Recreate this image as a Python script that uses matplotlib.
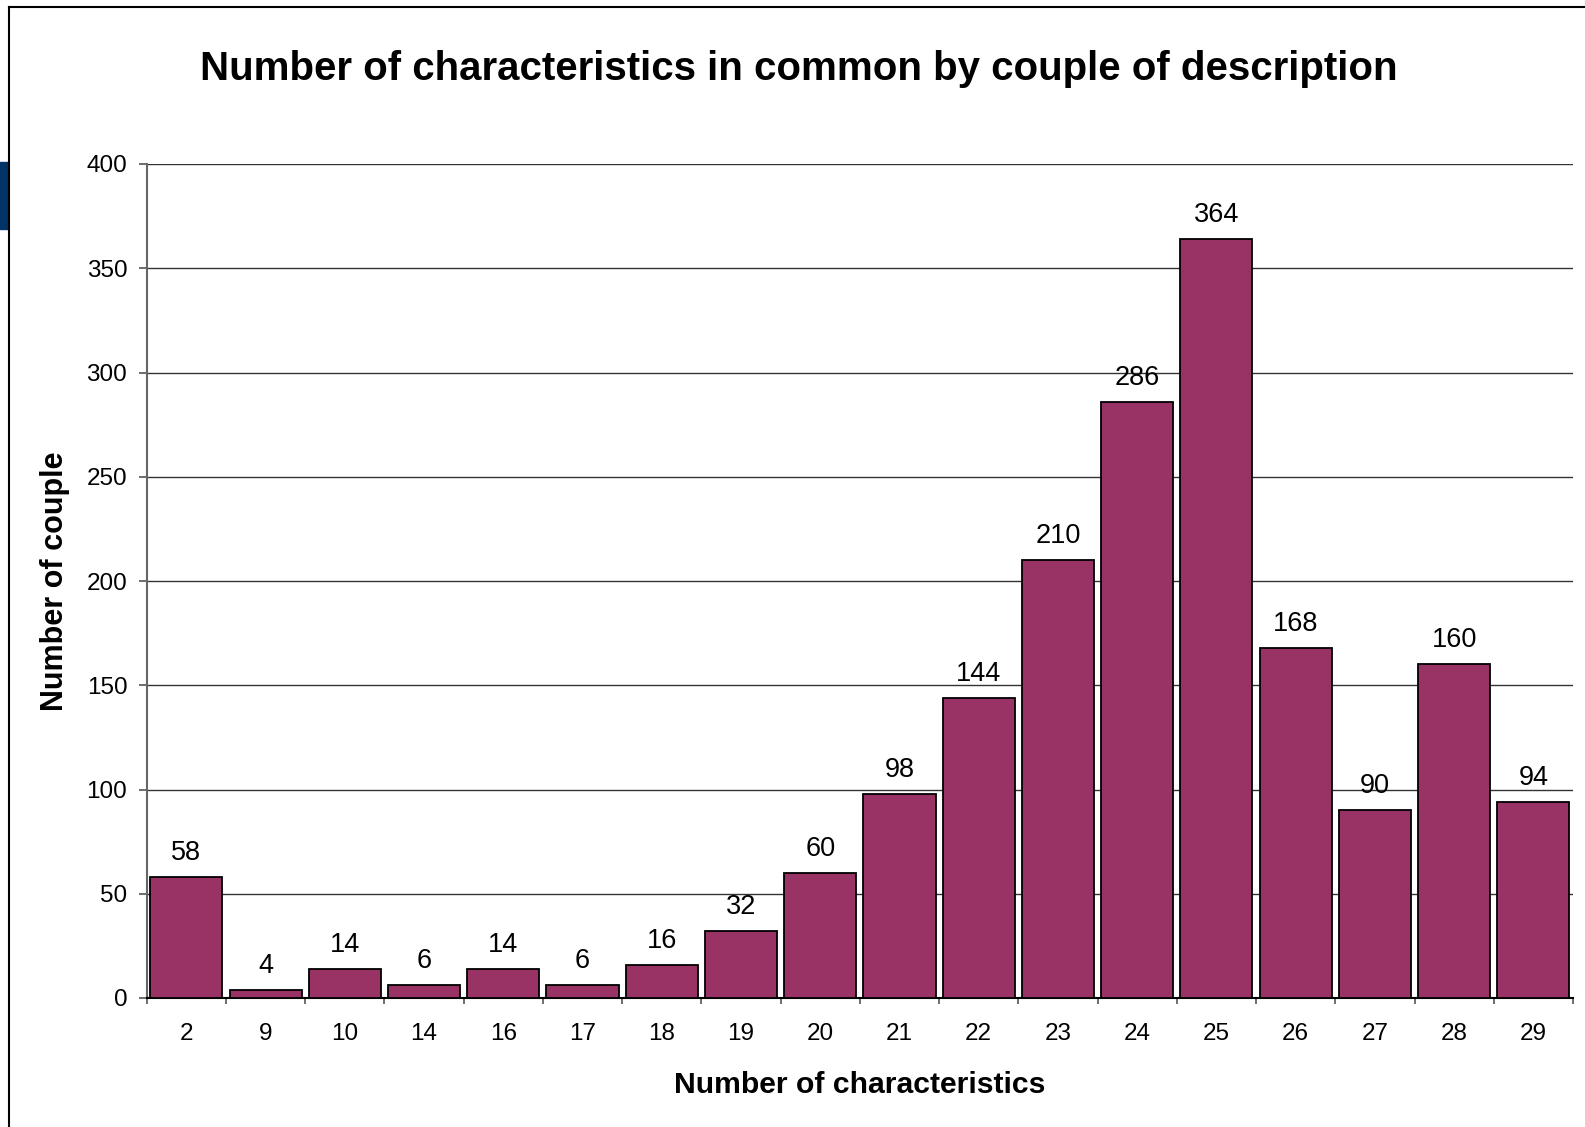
import matplotlib
matplotlib.use("Agg")
import matplotlib.pyplot as plt
from matplotlib.lines import Line2D
from matplotlib.patches import Rectangle
import numpy as np

# Number of characteristics shared, and how many couples share that many
categories = ["2", "9", "10", "14", "16", "17", "18", "19", "20",
              "21", "22", "23", "24", "25", "26", "27", "28", "29"]
couples = [58, 4, 14, 6, 14, 6, 16, 32, 60,
           98, 144, 210, 286, 364, 168, 90, 160, 94]
y_ticks = [0, 50, 100, 150, 200, 250, 300, 350, 400]

title = "Number of characteristics in common by couple of description"
x_label = "Number of characteristics"
y_label = "Number of couple"

plt.rcParams["font.family"] = ["Liberation Sans", "DejaVu Sans"]

W, H = 1585, 1127
fig = plt.figure(figsize=(W / 100, H / 100), dpi=100)
fig.patch.set_facecolor("white")

ax = fig.add_axes([146.7 / W, 1 - 998 / H, (1573 - 146.7) / W, (998 - 164) / H])

x = np.arange(len(categories))
ax.bar(x, couples, width=0.91, color="#993366", edgecolor="black",
       linewidth=1.3, zorder=3)

for xi, v in zip(x, couples):
    ax.annotate(str(v), (xi, v), xytext=(0, 8), textcoords="offset points",
                ha="center", va="bottom", fontsize=19.5, color="black")

ax.set_xlim(-0.5, len(categories) - 0.5)
ax.set_ylim(0, 400)
ax.set_yticks(y_ticks)
ax.set_yticklabels([str(t) for t in y_ticks], fontsize=17.5)
ax.set_xticks(x)
ax.set_xticklabels(categories, fontsize=17.5)
ax.set_xticks(np.arange(len(categories) + 1) - 0.5, minor=True)

ax.tick_params(axis="x", which="major", length=0, pad=18)
ax.tick_params(axis="x", which="minor", length=4.5, width=1.2, color="#555555",
               direction="out")
ax.tick_params(axis="y", which="major", length=6, width=1.2, color="#555555",
               direction="out", pad=8)

ax.yaxis.grid(True, color="#333333", linewidth=1.0, zorder=0)
ax.set_axisbelow(True)

for side in ("top", "right"):
    ax.spines[side].set_visible(False)
ax.spines["left"].set_color("#666666")
ax.spines["left"].set_linewidth(1.5)
ax.spines["bottom"].set_color("black")
ax.spines["bottom"].set_linewidth(1.5)

fig.text(799 / W, 1 - 69 / H, title, ha="center", va="center",
         fontsize=29, fontweight="bold")
fig.text(860 / W, 1 - 1085 / H, x_label, ha="center", va="center",
         fontsize=21.7, fontweight="bold")
fig.text(55.5 / W, 1 - 581 / H, y_label, ha="center", va="center",
         fontsize=22, fontweight="bold", rotation=90)

# Frame lines on the left and top edges, plus the small side tab
fig.add_artist(Line2D([8.5 / W, 8.5 / W], [0, 1 - 7 / H], color="black",
                      linewidth=1.5, transform=fig.transFigure))
fig.add_artist(Line2D([8.5 / W, 1], [1 - 7 / H, 1 - 7 / H], color="black",
                      linewidth=1.5, transform=fig.transFigure))
fig.add_artist(Rectangle((0, 1 - 229 / H), 8 / W, 67 / H, color="#003366",
                         transform=fig.transFigure))

fig.savefig("out.png", dpi=100)
